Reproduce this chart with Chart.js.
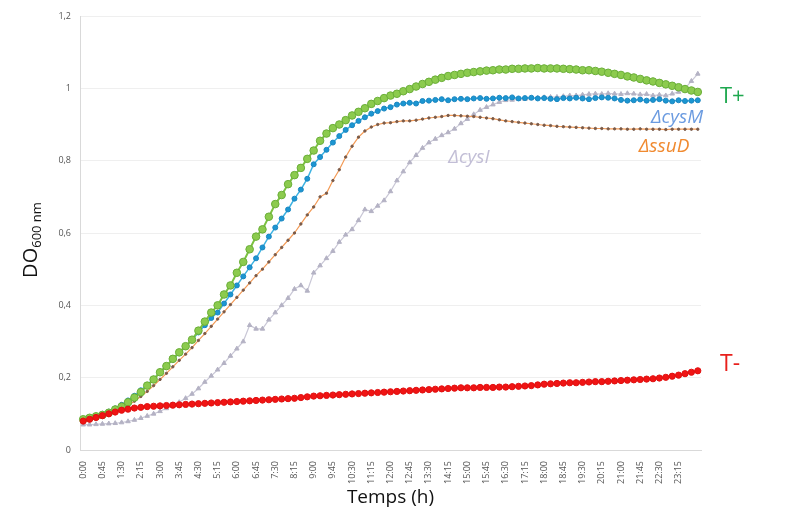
<!DOCTYPE html>
<html>
<head>
<meta charset="utf-8">
<script src="https://cdn.jsdelivr.net/npm/chart.js@4.4.1/dist/chart.umd.min.js"></script>
<style>
  html, body { margin: 0; padding: 0; background: #fff; }
  #wrap { width: 794px; height: 516px; position: relative; }
</style>
</head>
<body>
<div id="wrap"><canvas id="growthChart" width="794" height="516"></canvas></div>
<script>
var times = ['0:00','0:15','0:30','0:45','1:00','1:15','1:30','1:45','2:00','2:15','2:30','2:45',
  '3:00','3:15','3:30','3:45','4:00','4:15','4:30','4:45','5:00','5:15','5:30','5:45',
  '6:00','6:15','6:30','6:45','7:00','7:15','7:30','7:45','8:00','8:15','8:30','8:45',
  '9:00','9:15','9:30','9:45','10:00','10:15','10:30','10:45','11:00','11:15','11:30','11:45',
  '12:00','12:15','12:30','12:45','13:00','13:15','13:30','13:45','14:00','14:15','14:30','14:45',
  '15:00','15:15','15:30','15:45','16:00','16:15','16:30','16:45','17:00','17:15','17:30','17:45',
  '18:00','18:15','18:30','18:45','19:00','19:15','19:30','19:45','20:00','20:15','20:30','20:45',
  '21:00','21:15','21:30','21:45','22:00','22:15','22:30','22:45','23:00','23:15','23:30','23:45','24:00'];

var yTicks = [0, 0.2, 0.4, 0.6, 0.8, 1, 1.2];

// T+
var tPlus = [0.085,0.089,0.093,0.097,0.103,0.112,0.12,0.132,0.145,0.16,0.178,0.195,
  0.215,0.232,0.252,0.27,0.287,0.305,0.33,0.355,0.38,0.4,0.43,0.455,
  0.49,0.52,0.555,0.59,0.61,0.645,0.68,0.705,0.735,0.76,0.78,0.805,
  0.828,0.855,0.875,0.89,0.9,0.912,0.925,0.935,0.945,0.957,0.965,0.973,
  0.98,0.985,0.992,0.998,1.005,1.012,1.018,1.024,1.029,1.034,1.037,1.04,
  1.043,1.045,1.047,1.049,1.05,1.052,1.052,1.054,1.054,1.055,1.055,1.056,
  1.055,1.055,1.055,1.054,1.053,1.052,1.05,1.05,1.048,1.046,1.043,1.04,
  1.037,1.033,1.03,1.026,1.022,1.019,1.015,1.011,1.007,1.003,0.998,0.994,0.99];

// ΔcysM
var cysM = [0.085,0.09,0.095,0.1,0.106,0.115,0.125,0.137,0.15,0.165,0.18,0.197,
  0.215,0.232,0.25,0.268,0.285,0.305,0.325,0.345,0.365,0.38,0.405,0.43,
  0.455,0.48,0.505,0.53,0.56,0.59,0.615,0.64,0.665,0.695,0.72,0.75,
  0.79,0.81,0.83,0.85,0.868,0.885,0.898,0.91,0.92,0.93,0.937,0.944,
  0.948,0.955,0.958,0.96,0.958,0.965,0.966,0.968,0.97,0.967,0.97,0.971,
  0.97,0.972,0.973,0.971,0.972,0.974,0.973,0.975,0.972,0.973,0.974,0.972,
  0.973,0.971,0.97,0.973,0.972,0.974,0.972,0.97,0.973,0.975,0.974,0.972,
  0.968,0.966,0.967,0.969,0.966,0.968,0.97,0.966,0.964,0.967,0.965,0.966,0.967];

// ΔssuD
var ssuD = [0.08,0.083,0.087,0.092,0.098,0.105,0.113,0.123,0.135,0.148,0.162,0.178,
  0.195,0.212,0.23,0.248,0.265,0.283,0.303,0.322,0.342,0.362,0.382,0.402,
  0.422,0.442,0.462,0.482,0.5,0.52,0.54,0.56,0.58,0.6,0.625,0.65,
  0.672,0.7,0.71,0.745,0.775,0.81,0.84,0.865,0.882,0.893,0.9,0.904,
  0.905,0.908,0.91,0.91,0.912,0.915,0.918,0.92,0.922,0.925,0.925,0.924,
  0.923,0.922,0.92,0.918,0.916,0.913,0.91,0.908,0.906,0.904,0.902,0.9,
  0.898,0.897,0.895,0.894,0.893,0.892,0.891,0.89,0.889,0.889,0.888,0.888,
  0.888,0.887,0.887,0.888,0.887,0.887,0.887,0.886,0.887,0.887,0.887,0.887,0.887];

// ΔcysI
var cysI = [0.07,0.07,0.071,0.072,0.073,0.074,0.076,0.079,0.083,0.088,0.094,0.1,
  0.107,0.115,0.123,0.132,0.143,0.155,0.17,0.188,0.205,0.222,0.24,0.26,
  0.28,0.3,0.345,0.335,0.335,0.36,0.38,0.4,0.42,0.445,0.455,0.44,
  0.49,0.51,0.53,0.55,0.575,0.595,0.61,0.635,0.665,0.66,0.675,0.69,
  0.715,0.745,0.77,0.795,0.815,0.835,0.85,0.86,0.87,0.878,0.888,0.903,
  0.915,0.928,0.94,0.948,0.955,0.962,0.967,0.968,0.97,0.97,0.972,0.974,
  0.975,0.976,0.976,0.978,0.98,0.98,0.982,0.984,0.985,0.984,0.986,0.985,
  0.984,0.986,0.985,0.983,0.984,0.98,0.982,0.98,0.985,0.99,1.0,1.02,1.04];

// T-
var tMinus = [0.08,0.085,0.09,0.095,0.1,0.105,0.11,0.113,0.116,0.118,0.12,0.121,
  0.122,0.123,0.124,0.125,0.126,0.127,0.128,0.129,0.13,0.131,0.132,0.133,
  0.134,0.135,0.136,0.137,0.138,0.139,0.14,0.141,0.142,0.143,0.145,0.147,
  0.149,0.15,0.151,0.152,0.153,0.154,0.155,0.156,0.157,0.158,0.159,0.16,
  0.161,0.162,0.163,0.164,0.165,0.166,0.167,0.168,0.169,0.17,0.171,0.172,
  0.172,0.172,0.173,0.173,0.173,0.174,0.174,0.175,0.176,0.177,0.178,0.18,
  0.182,0.183,0.184,0.185,0.186,0.186,0.187,0.188,0.189,0.189,0.19,0.191,
  0.192,0.193,0.194,0.195,0.196,0.197,0.199,0.201,0.204,0.207,0.211,0.215,0.219];

// series names drawn beside the curves
var seriesLabels = [
  { text: 'T+', x: 720, y: 97, color: '#1fa84f', font: '22px "Open Sans", sans-serif', align: 'left' },
  { text: '\u0394cysM', x: 677, y: 118, color: '#6b9be0', font: 'italic 19px "Open Sans", sans-serif', align: 'center' },
  { text: '\u0394ssuD', x: 664, y: 147, color: '#f08a30', font: 'italic 19px "Open Sans", sans-serif', align: 'center' },
  { text: '\u0394cysI', x: 469, y: 158, color: '#c2bed6', font: 'italic 19px "Open Sans", sans-serif', align: 'center' },
  { text: 'T-', x: 720, y: 364, color: '#e8201c', font: '23px "Open Sans", sans-serif', align: 'left' }
];

var textPlugin = {
  id: 'textPlugin',
  afterDraw: function(chart) {
    var ctx = chart.ctx;
    ctx.save();
    ctx.textBaseline = 'middle';
    seriesLabels.forEach(function(l) {
      ctx.font = l.font;
      ctx.fillStyle = l.color;
      ctx.textAlign = l.align;
      ctx.fillText(l.text, l.x, l.y);
    });

    // y axis title with subscript
    ctx.translate(30, 240);
    ctx.rotate(-Math.PI / 2);
    ctx.fillStyle = '#111';
    ctx.textAlign = 'left';
    ctx.textBaseline = 'alphabetic';
    ctx.font = '20px "Open Sans", sans-serif';
    var w1 = ctx.measureText('DO').width;
    ctx.font = '13px "Open Sans", sans-serif';
    var w2 = ctx.measureText('600 nm').width;
    var start = -(w1 + w2) / 2;
    ctx.font = '20px "Open Sans", sans-serif';
    ctx.fillText('DO', start, 7);
    ctx.font = '13px "Open Sans", sans-serif';
    ctx.fillText('600 nm', start + w1, 11);
    ctx.restore();
  }
};

function makeSet(label, data, line, fill, edge, radius, style, width, order) {
  return {
    label: label,
    data: data,
    borderColor: line,
    borderWidth: width,
    pointBackgroundColor: fill,
    pointBorderColor: edge,
    pointBorderWidth: 1,
    pointRadius: radius,
    pointStyle: style,
    tension: 0,
    order: order
  };
}

new Chart(document.getElementById('growthChart'), {
  type: 'line',
  data: {
    labels: times,
    datasets: [
      makeSet('T-', tMinus, '#f22a2a', '#f01414', '#e01010', 3.1, 'circle', 2, 0),
      makeSet('T+', tPlus, '#7cc242', '#8ccb4e', '#6aae38', 3.8, 'circle', 2, 1),
      makeSet('\u0394cysM', cysM, '#3db2e2', '#1b96d2', '#1b86c0', 2.5, 'circle', 1.5, 2),
      makeSet('\u0394ssuD', ssuD, '#f39a55', '#7a5a48', '#7a5a48', 1.2, 'circle', 1.2, 3),
      makeSet('\u0394cysI', cysI, '#c9c7d6', '#b4b2c4', '#b4b2c4', 2.6, 'triangle', 1.2, 4)
    ]
  },
  options: {
    responsive: false,
    animation: false,
    layout: { padding: { left: 0, right: 93, top: 16, bottom: 0 } },
    plugins: {
      legend: { display: false },
      tooltip: { enabled: false }
    },
    scales: {
      x: {
        offset: true,
        grid: { display: false, drawTicks: true },
        border: { color: '#d9d9d9' },
        ticks: {
          autoSkip: false,
          minRotation: 90,
          maxRotation: 90,
          padding: 3,
          color: '#555',
          font: { size: 9, family: '"Open Sans", sans-serif' },
          callback: function(v, i) {
            return (i % 3 === 0 && i <= 93) ? times[i] : '';
          }
        },
        title: {
          display: true,
          text: 'Temps (h)',
          color: '#111',
          font: { size: 19, family: '"Open Sans", sans-serif' },
          padding: { top: 0, bottom: 7 }
        },
        afterFit: function(scale) { scale.height = 66; }
      },
      y: {
        min: 0,
        max: 1.2,
        afterBuildTicks: function(scale) {
          scale.ticks = yTicks.map(function(v) { return { value: v }; });
        },
        grid: { color: '#efefef', drawTicks: false },
        border: { color: '#d9d9d9' },
        ticks: {
          padding: 9,
          color: '#555',
          font: { size: 9, family: '"Open Sans", sans-serif' },
          callback: function(v) { return String(Math.round(v * 10) / 10).replace('.', ','); }
        },
        afterFit: function(scale) { scale.width = 80; }
      }
    }
  },
  plugins: [textPlugin]
});
</script>
</body>
</html>
